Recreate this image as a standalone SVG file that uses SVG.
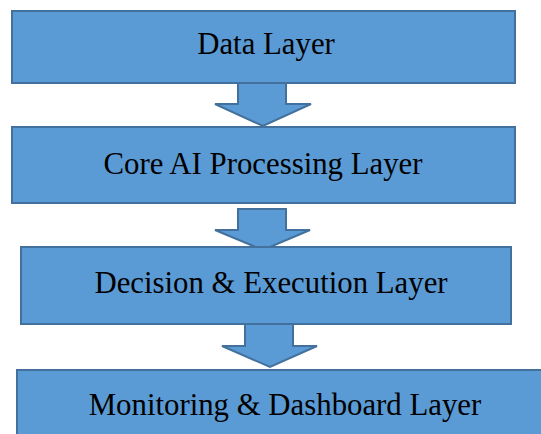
<svg xmlns="http://www.w3.org/2000/svg" width="541" height="434" viewBox="0 0 541 434">
  <style>
    .box { fill: #5b9bd5; stroke: #41719c; stroke-width: 2; }
    .arrow { fill: #5b9bd5; stroke: #41719c; stroke-width: 2; stroke-linejoin: miter; }
    .label { font-family: "Liberation Serif", "Times New Roman", serif; font-size: 30.8px; fill: #000; text-anchor: middle; }
  </style>
  <rect width="541" height="434" fill="#ffffff"/>

  <!-- block arrows between layers -->
  <g id="connectors">
    <polygon class="arrow" points="238,83 286,83 286,104 311,104 263,126 215,104 238,104"/>
    <polygon class="arrow" points="238,209 286,209 286,230 310,230 263,250 215,230 238,230"/>
    <polygon class="arrow" points="245,324 293,324 293,346 317,346 270,367 222,346 245,346"/>
  </g>

  <g id="data-layer">
    <rect class="box" x="12" y="11" width="503" height="72"/>
    <text class="label" x="266" y="54">Data Layer</text>
  </g>

  <g id="core-ai-layer">
    <rect class="box" x="12" y="127" width="503" height="76"/>
    <text class="label" x="263" y="174">Core AI Processing Layer</text>
  </g>

  <g id="decision-layer">
    <rect class="box" x="21" y="247" width="490" height="77"/>
    <text class="label" x="271" y="293">Decision &amp; Execution Layer</text>
  </g>

  <g id="monitoring-layer">
    <rect class="box" x="17" y="370" width="530" height="72"/>
    <text class="label" x="285" y="415">Monitoring &amp; Dashboard Layer</text>
  </g>
</svg>
